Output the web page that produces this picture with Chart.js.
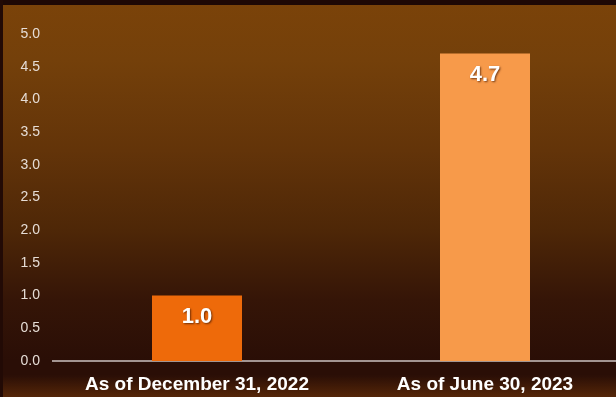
<!DOCTYPE html>
<html>
<head>
<meta charset="utf-8">
<script src="https://cdn.jsdelivr.net/npm/chart.js@4/dist/chart.umd.min.js"></script>
<style>
  html, body { margin: 0; padding: 0; width: 616px; height: 397px; overflow: hidden; }
  body {
    background:
      linear-gradient(to bottom, rgba(0,0,0,0) 0, rgba(0,0,0,0) 375px, rgba(120,58,10,0.55) 397px),
      linear-gradient(to bottom, #7b4309 0px, #74400a 60px, #633409 150px, #4e2707 230px, #351507 300px, #2a0e06 360px, #2a0e06 397px);
  }
  #frameTop { position: absolute; left: 0; top: 0; width: 616px; height: 5px; background: #1e0805; }
  #frameLeft { position: absolute; left: 0; top: 0; width: 3px; height: 397px; background: #220a05; }
  #wrap { position: absolute; left: 0; top: 0; width: 629px; height: 397px; }
</style>
</head>
<body>
<div id="frameTop"></div>
<div id="frameLeft"></div>
<div id="wrap"><canvas id="c" width="629" height="397"></canvas></div>
<script>
const categories = ["As of December 31, 2022", "As of June 30, 2023"];
const values = [1.0, 4.7];
const barColors = ["#ee6a0a", "#f79a4a"];
const yTicks = [0, 0.5, 1, 1.5, 2, 2.5, 3, 3.5, 4, 4.5, 5];

// Value written in bold white near the top of each bar
const valueLabels = {
  id: "valueLabels",
  afterDatasetsDraw(chart) {
    const ctx = chart.ctx;
    const meta = chart.getDatasetMeta(0);
    ctx.save();
    ctx.font = "bold 22px 'Liberation Sans', Arial, sans-serif";
    ctx.textAlign = "center";
    ctx.textBaseline = "middle";
    ctx.fillStyle = "#ffffff";
    ctx.shadowColor = "rgba(60,20,0,0.7)";
    ctx.shadowOffsetX = 1;
    ctx.shadowOffsetY = 1;
    ctx.shadowBlur = 2;
    meta.data.forEach((bar, i) => {
      ctx.fillText(values[i].toFixed(1), bar.x, bar.y + 21);
    });
    ctx.restore();
  }
};

new Chart(document.getElementById("c"), {
  type: "bar",
  data: {
    labels: categories,
    datasets: [{
      data: values,
      backgroundColor: barColors,
      borderWidth: 0,
      barPercentage: 0.3125,
      categoryPercentage: 1.0
    }]
  },
  options: {
    responsive: false,
    animation: false,
    devicePixelRatio: 1,
    layout: { padding: { top: 34, right: 0, bottom: 0, left: 0 } },
    plugins: { legend: { display: false }, tooltip: { enabled: false } },
    scales: {
      x: {
        grid: { display: false, drawTicks: false },
        border: { display: true, color: "#a39592", width: 2 },
        ticks: {
          color: "#ffffff",
          font: { family: "'Liberation Sans', Arial, sans-serif", size: 19, weight: "bold" },
          padding: 12,
          maxRotation: 0
        },
        afterFit(s) { s.height = 36; }
      },
      y: {
        min: 0,
        max: 5,
        afterBuildTicks(s) { s.ticks = yTicks.map(v => ({ value: v })); },
        grid: { display: false, drawTicks: false },
        border: { display: false },
        ticks: {
          color: "#e6ddd6",
          font: { family: "'Liberation Sans', Arial, sans-serif", size: 14 },
          padding: 13,
          callback: v => Number(v).toFixed(1)
        },
        afterFit(s) { s.width = 53; }
      }
    }
  },
  plugins: [valueLabels]
});
</script>
</body>
</html>
